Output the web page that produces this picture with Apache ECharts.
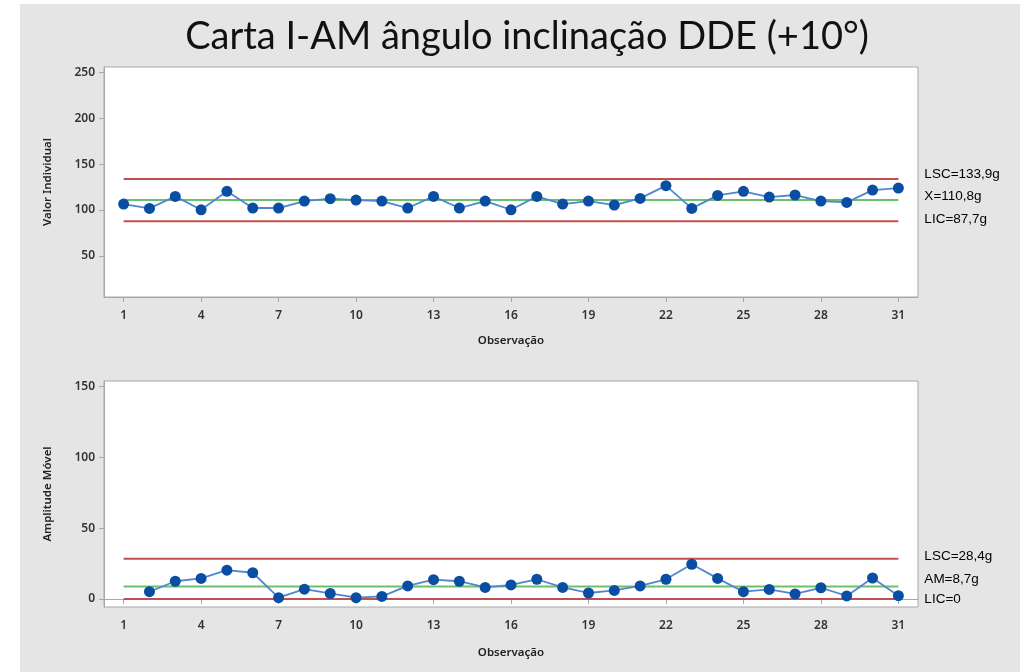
<!DOCTYPE html>
<html>
<head>
<meta charset="utf-8">
<script src="https://cdn.jsdelivr.net/npm/echarts@6/dist/echarts.min.js"></script>
<style>
html,body{margin:0;padding:0;background:#ffffff;}
#chart{width:1020px;height:672px;}
</style>
</head>
<body>
<div id="chart"></div>
<script>
// ---- data ----
const observations = [1,2,3,4,5,6,7,8,9,10,11,12,13,14,15,16,17,18,19,20,21,22,23,24,25,26,27,28,29,30,31];
const individualValues = [106.4,101.7,114.8,100.2,120.3,102.1,102.1,109.7,112.3,110.8,109.7,102.1,114.8,102.1,109.7,100.2,114.8,106.4,109.7,105.3,112.6,126.5,101.7,115.9,120.3,114.1,116.3,109.7,108.2,121.7,123.9];
const movingRangeValues = [null,5.1,12.5,14.5,20.3,18.5,0.9,6.9,3.9,0.9,1.8,9.2,13.6,12.5,8.1,9.9,13.9,8.1,4.2,6.0,9.2,13.9,24.5,14.5,5.1,6.7,3.5,7.9,2.1,14.8,2.3];
const limitNamesI = ["LSC=133,9g","X=110,8g","LIC=87,7g"];
const limitValuesI = [133.9,110.8,87.7];
const limitNamesMR = ["LSC=28,4g","AM=8,7g","LIC=0"];
const limitValuesMR = [28.4,8.7,0];
const xTickLabels = [1,4,7,10,13,16,19,22,25,28,31];
const yTickLabelsI = [50,100,150,200,250];
const yTickLabelsMR = [0,50,100,150];
const titleText = "Carta I-AM ângulo inclinação DDE (+10°)";
const yNameI = "Valor Individual";
const yNameMR = "Amplitude Móvel";
const xName = "Observação";

// ---- styles ----
const RED = '#c0504d', GREEN = '#6cbf6c', LINE = '#5087cc', DOT = '#0a4ea3';
const frameColor = '#a8a8a8';
const labelFont = {fontFamily:'Noto Sans', fontSize:12, color:'#333', fontWeight:600};

function xAxisCfg(idx){
  return {
    gridIndex: idx, type:'value', min:0.24, max:31.76,
    name: xName, nameLocation:'middle', nameGap: idx===0?38:40,
    nameTextStyle:{fontFamily:'Noto Sans', fontSize:11.5, color:'#222', fontWeight:600},
    axisLine:{show:true, lineStyle:{color:frameColor}},
    axisTick:{show:true, length:5, lineStyle:{color:frameColor}, customValues:xTickLabels},
    axisLabel:Object.assign({margin:13, customValues:xTickLabels}, labelFont),
    splitLine:{show:false}
  };
}
function yAxisCfg(idx, min, max, ticks, name){
  return {
    gridIndex: idx, type:'value', min:min, max:max,
    name: name, nameLocation:'middle', nameGap:50, nameRotate:90,
    nameTextStyle:{fontFamily:'Noto Sans', fontSize:11.5, color:'#222', fontWeight:600},
    axisLine:{show:true, lineStyle:{color:frameColor}},
    axisTick:{show:true, length:5, lineStyle:{color:frameColor}, customValues:ticks},
    axisLabel:Object.assign({margin:9, customValues:ticks}, labelFont),
    splitLine:{show:false}
  };
}
const offsetsI = [-5,-4,-2];
const offsetsMR = [-2,-7,0];
function limitSeries(axisIdx, names, values, offsets){
  return values.map((v,k)=>({
    type:'line', xAxisIndex:axisIdx, yAxisIndex:axisIdx, silent:true,
    symbol:'none', animation:false, z:1,
    lineStyle:{color: k===1?GREEN:RED, width:2},
    data:[[observations[0],v],[observations[observations.length-1],v]],
    endLabel:{show:true, formatter:names[k], distance:26, offset:[0,offsets[k]],
      fontFamily:'Liberation Sans', fontSize:13.5, color:'#000'}
  }));
}

const chart = echarts.init(document.getElementById('chart'), null, {renderer:'canvas'});
chart.setOption({
  animation:false,
  backgroundColor:'#ffffff',
  graphic:[{type:'rect', shape:{x:20,y:4,width:1000,height:668}, style:{fill:'#e5e5e5'}, z:-10}],
  title:{text:titleText, left:522, textAlign:'center', top:13,
    textStyle:{fontFamily:'Lato', fontSize:38, fontWeight:'normal', color:'#111'}},
  grid:[
    {left:104, top:67, width:814, height:230, show:true, backgroundColor:'#ffffff', borderColor:frameColor, borderWidth:1},
    {left:104, top:381, width:814, height:226, show:true, backgroundColor:'#ffffff', borderColor:frameColor, borderWidth:1}
  ],
  xAxis:[xAxisCfg(0), xAxisCfg(1)],
  yAxis:[yAxisCfg(0,5,256,yTickLabelsI,yNameI), yAxisCfg(1,-5.7,154,yTickLabelsMR,yNameMR)],
  series:[
    ...limitSeries(0, limitNamesI, limitValuesI, offsetsI),
    ...limitSeries(1, limitNamesMR, limitValuesMR, offsetsMR),
    {type:'line', xAxisIndex:0, yAxisIndex:0, z:3,
     data: observations.map((o,i)=>[o, individualValues[i]]),
     lineStyle:{color:LINE, width:1.8}, symbol:'circle', symbolSize:11, itemStyle:{color:DOT}},
    {type:'line', xAxisIndex:1, yAxisIndex:1, z:3, connectNulls:false,
     data: observations.map((o,i)=>[o, movingRangeValues[i]]),
     lineStyle:{color:LINE, width:1.8}, symbol:'circle', symbolSize:11, itemStyle:{color:DOT}}
  ]
});
</script>
</body>
</html>
